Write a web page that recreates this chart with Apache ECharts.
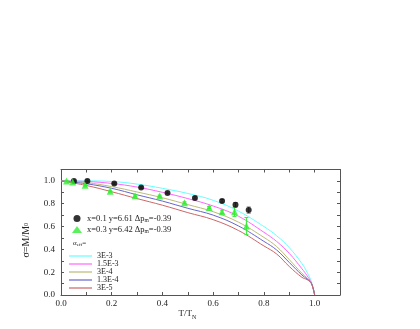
<!DOCTYPE html>
<html><head><meta charset="utf-8">
<script src="https://cdn.jsdelivr.net/npm/echarts@6/dist/echarts.min.js"></script>
<style>html,body{margin:0;padding:0;background:#fff}#c{width:420px;height:329px}</style>
</head><body><div id="c"></div>
<script>
var curveX = [0, 0.1, 0.2, 0.3, 0.4, 0.5, 0.6, 0.7, 0.8, 0.85, 0.9, 0.95, 0.97, 0.985, 0.995, 1.0];
var cyan3E3   = [1, 1.0, 0.995, 0.972, 0.935, 0.89, 0.83, 0.735, 0.60, 0.52, 0.415, 0.275, 0.2, 0.13, 0.06, 0];
var mag15E3   = [1, 0.995, 0.978, 0.946, 0.90, 0.845, 0.78, 0.69, 0.55, 0.47, 0.365, 0.23, 0.17, 0.115, 0.05, 0];
var olive3E4  = [1, 0.985, 0.95, 0.903, 0.852, 0.792, 0.73, 0.638, 0.505, 0.425, 0.31, 0.19, 0.15, 0.11, 0.05, 0];
var blue13E4  = [1, 0.975, 0.935, 0.878, 0.823, 0.76, 0.70, 0.605, 0.47, 0.395, 0.285, 0.175, 0.14, 0.11, 0.05, 0];
var brown3E5  = [1, 0.96, 0.905, 0.845, 0.787, 0.722, 0.66, 0.565, 0.43, 0.36, 0.25, 0.155, 0.135, 0.11, 0.05, 0];
var curveNames = ['3E-3', '1.5E-3', '3E-4', '1.3E-4', '3E-5'];

var blackX   = [0.051, 0.104, 0.21, 0.316, 0.42, 0.528, 0.635, 0.688, 0.74];
var blackY   = [1.0, 1.0, 0.977, 0.942, 0.895, 0.851, 0.825, 0.79, 0.744];
var blackErr = [0.008, 0.008, 0.008, 0.008, 0.008, 0.01, 0.012, 0.02, 0.028];

var greenX   = [0.022, 0.046, 0.095, 0.194, 0.292, 0.389, 0.487, 0.584, 0.635, 0.684, 0.731];
var greenY   = [1.0, 0.99, 0.962, 0.91, 0.87, 0.867, 0.808, 0.767, 0.729, 0.729, 0.604];
var greenErr = [0.005, 0.005, 0.008, 0.008, 0.008, 0.008, 0.008, 0.008, 0.015, 0.04, 0.075];

var xTicks = [0.0, 0.2, 0.4, 0.6, 0.8, 1.0];
var yTicks = [0.0, 0.2, 0.4, 0.6, 0.8, 1.0];

var F = 'Liberation Serif';
var colors = ['#66ffff', '#ff66ff', '#bbbb77', '#6666cc', '#cc6666'];
var curveData = [cyan3E3, mag15E3, olive3E4, blue13E4, brown3E5];

function zip(xs, ys) { return xs.map(function (x, i) { return [x, ys[i]]; }); }
function errData(xs, ys, es) { return xs.map(function (x, i) { return [x, ys[i] - es[i], ys[i] + es[i]]; }); }

function errRender(color) {
  return function (params, api) {
    var x = api.value(0);
    var lo = api.coord([x, api.value(1)]);
    var hi = api.coord([x, api.value(2)]);
    var w = 2;
    return {
      type: 'group',
      children: [
        { type: 'line', shape: { x1: lo[0], y1: lo[1], x2: hi[0], y2: hi[1] }, style: { stroke: color, lineWidth: 1 } },
        { type: 'line', shape: { x1: lo[0] - w, y1: lo[1], x2: lo[0] + w, y2: lo[1] }, style: { stroke: color, lineWidth: 1 } },
        { type: 'line', shape: { x1: hi[0] - w, y1: hi[1], x2: hi[0] + w, y2: hi[1] }, style: { stroke: color, lineWidth: 1 } }
      ]
    };
  };
}

var axisCommon = {
  min: 0, max: 1.1, interval: 0.2,
  axisLine: { show: true, onZero: false, lineStyle: { color: '#555', width: 1 } },
  axisTick: { show: true, inside: true, length: 3, lineStyle: { color: '#555' } },
  minorTick: { show: true, splitNumber: 2, length: 3, lineStyle: { color: '#555' } },
  splitLine: { show: false }
};

var series = [];
curveData.forEach(function (d, i) {
  series.push({
    name: curveNames[i], type: 'line', data: zip(curveX, d), smooth: 0.4,
    symbol: 'none', lineStyle: { color: colors[i], width: 1 }, itemStyle: { color: colors[i] },
    z: 2
  });
});
series.push({
  type: 'custom', renderItem: errRender('#888'), data: errData(blackX, blackY, blackErr),
  encode: { x: 0, y: [1, 2] }, z: 3, silent: true
});
series.push({
  type: 'custom', renderItem: errRender('#33ee33'), data: errData(greenX, greenY, greenErr),
  encode: { x: 0, y: [1, 2] }, z: 3, silent: true
});
series.push({
  name: 'black', type: 'scatter', data: zip(blackX, blackY), symbol: 'circle', symbolSize: 6,
  itemStyle: { color: '#000' }, z: 4
});
series.push({
  name: 'green', type: 'scatter', data: zip(greenX, greenY), symbol: 'triangle', symbolSize: 7,
  itemStyle: { color: '#33ee33' }, z: 4
});

var chart = echarts.init(document.getElementById('c'), null, { renderer: 'canvas' });
chart.setOption({
  animation: false,
  backgroundColor: '#fff',
  grid: { left: 61, right: 80, top: 169.5, bottom: 34 },
  xAxis: [
    Object.assign({}, axisCommon, {
      type: 'value', position: 'bottom',
      axisLabel: { show: true, color: '#222', fontFamily: F, fontSize: 9, margin: 4,
        formatter: function (v) { return xTicks.indexOf(Math.round(v * 10) / 10) >= 0 ? v.toFixed(1) : ''; } },
      name: 'T/T{s|N}', nameLocation: 'middle', nameGap: 13,
      nameTextStyle: { color: '#222', fontFamily: F, fontSize: 9, padding: [0, 26, 0, 0],
        rich: { s: { fontFamily: F, fontSize: 6, verticalAlign: 'bottom', padding: [6, 0, 0, 0] } } }
    }),
    Object.assign({}, axisCommon, { type: 'value', position: 'top', axisLabel: { show: false } })
  ],
  yAxis: [
    Object.assign({}, axisCommon, {
      type: 'value', position: 'left',
      axisLabel: { show: true, color: '#222', fontFamily: F, fontSize: 9, margin: 6,
        formatter: function (v) { return yTicks.indexOf(Math.round(v * 10) / 10) >= 0 ? v.toFixed(1) : ''; } },
      name: 'σ=M/M{s|0}', nameLocation: 'middle', nameGap: 30, nameRotate: 90,
      nameTextStyle: { color: '#222', fontFamily: F, fontSize: 10, padding: [0, 0, 0, -16],
        rich: { s: { fontFamily: F, fontSize: 6 } } }
    }),
    Object.assign({}, axisCommon, { type: 'value', position: 'right', axisLabel: { show: false } })
  ],
  legend: [
    {
      data: ['black', 'green'], orient: 'vertical', left: 67, top: 209,
      itemWidth: 10, itemHeight: 7, itemGap: 1.5,
      textStyle: { color: '#222', fontFamily: F, fontSize: 8.5,
        rich: { n: { fontFamily: F, fontSize: 8.5, color: '#222' }, s: { fontFamily: F, fontSize: 5.5, color: '#222', padding: [4, 0, 0, 0] } } },
      formatter: function (n) {
        return n === 'black' ? '{n|x=0.1 y=6.61 Δp}{s|m}{n|=-0.39}' : '{n|x=0.3 y=6.42 Δp}{s|m}{n|=-0.39}';
      }
    },
    {
      data: curveNames, orient: 'vertical', left: 64, top: 247,
      itemWidth: 23, itemHeight: 1.2, itemGap: 0, icon: 'rect',
      textStyle: { color: '#222', fontFamily: F, fontSize: 8, lineHeight: 7.7 }
    }
  ],
  graphic: [
    { type: 'text', left: 73, top: 240, style: { text: 'α{s|eff}=', fill: '#222', font: '7px ' + F,
      rich: { s: { fontFamily: F, fontSize: 5, fill: '#222', padding: [3, 0, 0, 0] } } } }
  ],
  series: series
});
</script></body></html>
